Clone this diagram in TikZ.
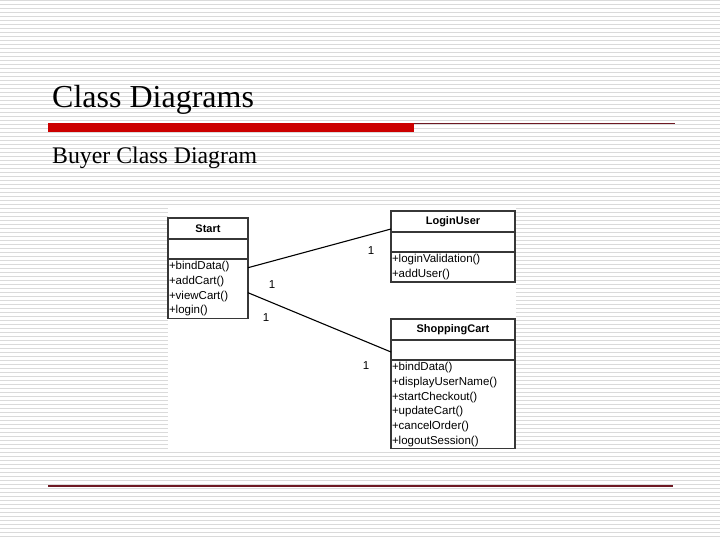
\documentclass[tikz,border=0pt]{standalone}
\usepackage{fontspec}
\setmainfont{Liberation Serif}
\newfontfamily\umlfont{Liberation Sans}
\usetikzlibrary{positioning}
\definecolor{slidered}{RGB}{204,0,0}
\definecolor{ruledark}{RGB}{110,25,35}
\definecolor{stripegray}{RGB}{218,218,218}
\definecolor{boxline}{RGB}{55,55,55}

\begin{document}
\begin{tikzpicture}[x=1pt, y=-1pt,
    classname/.style={draw=boxline, line width=1.1pt, minimum height=21pt, inner sep=0pt,
      outer sep=0pt, font=\umlfont\fontsize{11}{13}\selectfont\bfseries},
    classattr/.style={draw=boxline, line width=1.1pt, minimum height=20pt, inner sep=0pt,
      outer sep=0pt},
    classops/.style={draw=boxline, line width=1.1pt, inner xsep=1pt, inner ysep=2.3pt,
      outer sep=0pt, align=left, font=\umlfont\fontsize{11.5}{14.7}\selectfont},
    mult/.style={inner sep=0pt, font=\umlfont\fontsize{11.5}{14}\selectfont},
    assoc/.style={line width=1.1pt},
    slidetext/.style={anchor=base west, inner sep=0pt}]
  \useasboundingbox (0,0) rectangle (720,540);
  \fill[white] (0,0) rectangle (720,540);
  \foreach \k in {0,...,134}
    \draw[stripegray, line width=1.1pt] (0,4*\k+0.7) -- (720,4*\k+0.7);
  \fill[white] (168,208) rectangle (516,452);

  \node[slidetext, font=\fontsize{32}{37}\selectfont] (title) at (52,108) {Class Diagrams};
  \fill[slidered] (48,123) rectangle (414,132);
  \draw[ruledark, line width=1.2pt] (414,123.5) -- (675,123.5);
  \node[slidetext, font=\fontsize{23.8}{28}\selectfont] (subtitle) at (52,164) {Buyer Class Diagram};
  \draw[ruledark, line width=1.2pt] (48,486) -- (673,486);

  \node[classname, minimum width=80pt] (startname) at (208,228.5) {Start};
  \node[classattr, minimum width=80pt, below=0pt of startname] (startattr) {};
  \node[classops, text width=78pt, below=0pt of startattr] (startops)
    {+bindData()\\+addCart()\\+viewCart()\\+login()};
  \draw[boxline, line width=1.8pt] (startattr.south west) -- (startattr.south east);

  \node[classname, minimum width=124pt] (loginname) at (453,221.5) {LoginUser};
  \node[classattr, minimum width=124pt, below=0pt of loginname] (loginattr) {};
  \node[classops, text width=122pt, below=0pt of loginattr] (loginops)
    {+loginValidation()\\+addUser()};
  \draw[boxline, line width=1.8pt] (loginname.south west) -- (loginname.south east);

  \node[classname, minimum width=124pt] (cartname) at (453,329.5) {ShoppingCart};
  \node[classattr, minimum width=124pt, below=0pt of cartname] (cartattr) {};
  \node[classops, text width=122pt, below=0pt of cartattr] (cartops)
    {+bindData()\\+displayUserName()\\+startCheckout()\\+updateCart()\\+cancelOrder()\\+logoutSession()};

  \draw[assoc] ([yshift=21pt]startops.east) -- ([yshift=-7.5pt]loginname.west);
  \draw[assoc] ([yshift=-4pt]startops.east) -- ([yshift=-2pt]cartattr.west);

  \node[mult] (m1) at (272,285) {1};
  \node[mult] (m2) at (266,318) {1};
  \node[mult] (m3) at (371,251) {1};
  \node[mult] (m4) at (366,366) {1};
\end{tikzpicture}
\end{document}
